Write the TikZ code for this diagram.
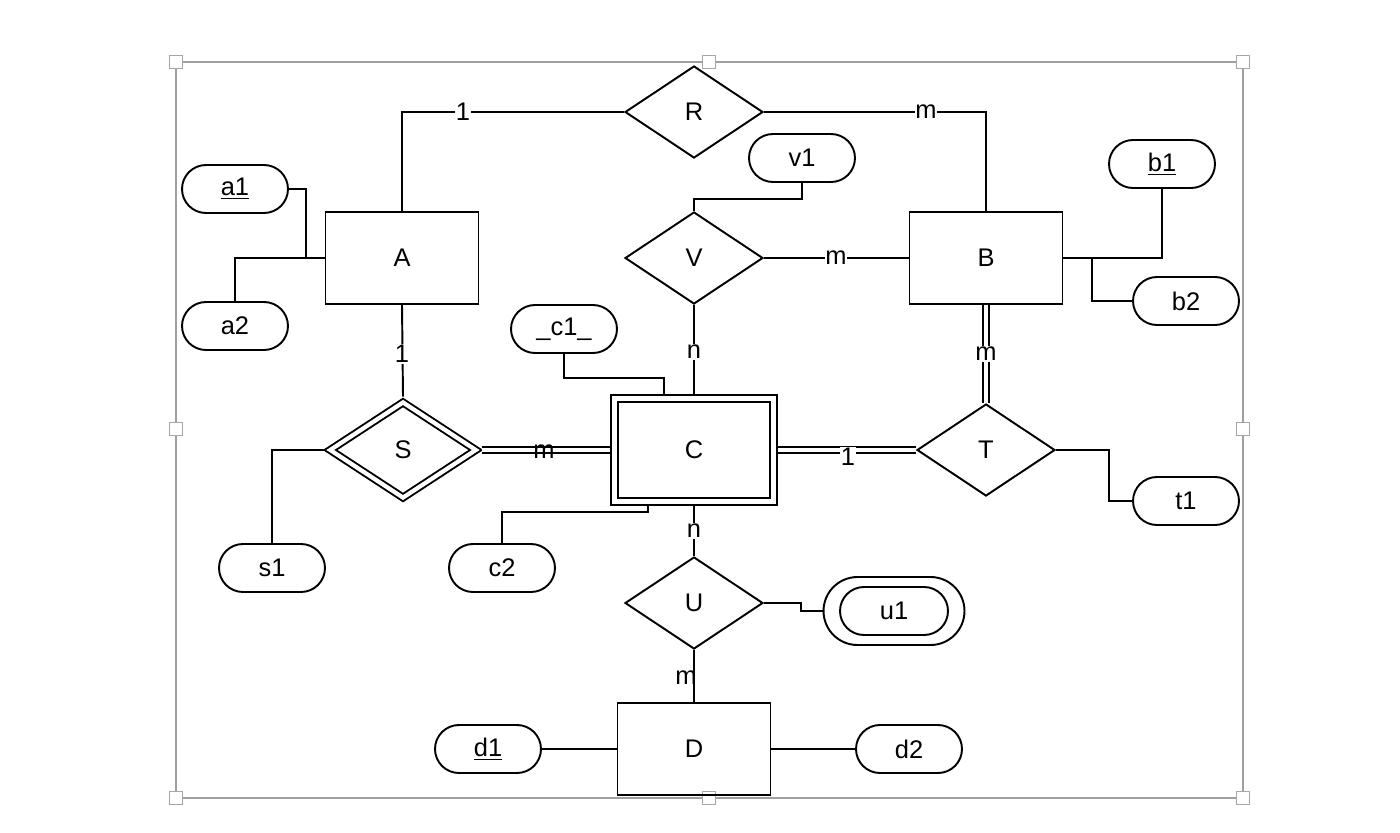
\documentclass[tikz,border=0pt]{standalone}
\usepackage{fontspec}
\setmainfont{Liberation Sans}
\usetikzlibrary{shapes.geometric,shapes.misc,calc}
\tikzset{
  entity/.style={
    draw,
    line width=1.1pt,
    minimum width=3.06cm,
    minimum height=1.84cm,
    inner sep=0
  },
  weakentity/.style={
    draw,
    line width=1.1pt,
    double,
    double distance=2.8pt,
    minimum width=3.18cm,
    minimum height=2.06cm,
    outer sep=2.5pt
  },
  relation/.style={
    shape=diamond,
    draw,
    line width=1.1pt,
    minimum width=2.76cm,
    minimum height=1.84cm,
    inner sep=0
  },
  weakrelation/.style={
    relation,
    double,
    double distance=2.4pt,
    minimum width=2.98cm,
    minimum height=1.97cm,
    outer sep=2.3pt
  },
  attrib/.style={
    shape=rounded rectangle,
    draw,
    line width=1.1pt,
    minimum width=2.12cm,
    minimum height=0.96cm,
    inner sep=0
  },
  link/.style={line width=1.1pt},
  dlink/.style={line width=0.9pt, double, double distance=2.6pt},
  card/.style={fill=white, inner sep=0.5pt},
  cardbare/.style={inner sep=0.5pt},
  frame/.style={draw=gray!75, line width=0.8pt},
  handle/.style={
    draw=gray!70,
    fill=white,
    line width=0.6pt,
    minimum size=0.27cm,
    inner sep=0
  },
  every node/.style={font=\fontsize{14.5}{17}\selectfont}
}

\begin{document}
\begin{tikzpicture}[x=0.02cm, y=-0.02cm]
    \useasboundingbox (0,0) rectangle (1400,832);
    %
    \draw[frame] (176,62) rectangle (1243,798);
    \foreach \hx/\hy in {176/62, 709/62, 1243/62, 176/429, 1243/429, 176/798, 709/798, 1243/798}
        \node[handle] (h\hx-\hy) at (\hx,\hy) {};
    %
    \node[entity] (A) at (402,258) {A};
    \node[entity] (B) at (986,258) {B};
    \node[weakentity] (C) at (694,450) {C};
    \node[entity] (D) at (694,749) {D};
    %
    \node[relation] (R) at (694,112) {R};
    \node[relation] (V) at (694,258) {V};
    \node[weakrelation] (S) at (403,450) {S};
    \node[relation] (T) at (986,450) {T};
    \node[relation] (U) at (694,603) {U};
    %
    \node[attrib] (a1) at (235,189) {\underline{a1}};
    \node[attrib] (a2) at (235,326) {a2};
    \node[attrib] (v1) at (802,158) {v1};
    \node[attrib] (b1) at (1162,164) {\underline{b1}};
    \node[attrib] (b2) at (1186,301) {b2};
    \node[attrib] (c1) at (564,329) {\_c1\_};
    \node[attrib] (c2) at (502,568) {c2};
    \node[attrib] (s1) at (272,568) {s1};
    \node[attrib] (t1) at (1186,501) {t1};
    \node[attrib, minimum width=2.82cm, minimum height=1.36cm] (u1o) at (894,611) {};
    \node[attrib, minimum width=2.16cm, minimum height=0.96cm] (u1) at (894,611) {u1};
    \node[attrib] (d1) at (488,749) {\underline{d1}};
    \node[attrib] (d2) at (909,749) {d2};
    %
    \coordinate (aj) at (306,258);
    \coordinate (bj) at (1092,258);
    \coordinate (c1j) at (664,396);
    \coordinate (c2j) at (648,504);
    %
    \draw[link] (A.north) |- (R.west);
    \draw[link] (R.east) -| (B.north);
    \draw[link] (a1.east) -| (aj) -- (A.west);
    \draw[link] (a2.north) |- (A.west);
    \draw[link] (v1.south) -- ++(0,16) -| (V.north);
    \draw[link] (V.east) -- (B.west);
    \draw[link] (V.south) -- (C.north);
    \draw[link] (b1.south) |- (B.east);
    \draw[link] (b2.west) -| (bj);
    \draw[dlink] (B.south) -- (T.north);
    \draw[link] (A.south) -- (S.north);
    \draw[link] (S.west) -| (s1.north);
    \draw[dlink] (S.east) -- (C.west);
    \draw[link] (c1.south) -- ++(0,24) -| (c1j);
    \draw[link] (c2.north) -- ++(0,-31) -| (c2j);
    \draw[dlink] (C.east) -- (T.west);
    \draw[link] (T.east) -- ++(53,0) |- (t1.west);
    \draw[link] (C.south) -- (U.north);
    \draw[link] (U.east) -- ++(37,0) |- (u1o.west);
    \draw[link] (U.south) -- (D.north);
    \draw[link] (d1.east) -- (D.west);
    \draw[link] (D.east) -- (d2.west);
    %
    \node[card] (kAR) at (463,112) {1};
    \node[card] (kRB) at (926,112) {m};
    \node[card] (kVB) at (836,258) {m};
    \node[card] (kVC) at (694,352) {n};
    \node[card] (kBT) at (986,354) {m};
    \node[card] (kAS) at (402,354) {1};
    \node[cardbare] (kSC) at (544,452) {m};
    \node[card] (kCT) at (848,457) {1};
    \node[card] (kCU) at (694,531) {n};
    \node[cardbare] (kUD) at (686,678) {m};
\end{tikzpicture}
\end{document}
